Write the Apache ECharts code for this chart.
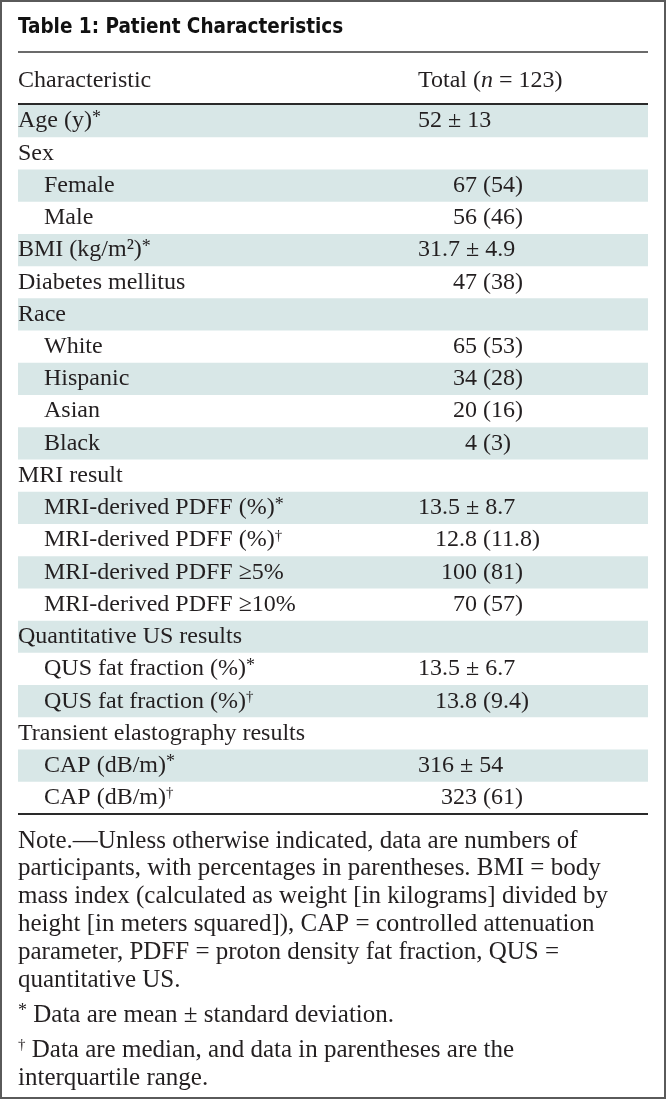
<!DOCTYPE html>
<html><head><meta charset="utf-8">
<script src="https://cdn.jsdelivr.net/npm/echarts@6.0.0/dist/echarts.min.js"></script>
<style>html,body{margin:0;padding:0;background:#fff}#c{width:666px;height:1100px}</style>
</head><body><div id="c"></div>
<script>
const titleText = 'Table 1: Patient Characteristics';
const headerLabel = 'Characteristic';
const headerValue = 'Total ({it|n} = 123)';
const rowLabels = ['Age (y)*','Sex','Female','Male','BMI (kg/m²)*','Diabetes mellitus','Race','White','Hispanic','Asian','Black','MRI result','MRI-derived PDFF (%)*','MRI-derived PDFF (%)†','MRI-derived PDFF ≥5%','MRI-derived PDFF ≥10%','Quantitative US results','QUS fat fraction (%)*','QUS fat fraction (%)†','Transient elastography results','CAP (dB/m)*','CAP (dB/m)†'];
const rowLevels = [0,0,1,1,0,0,0,1,1,1,1,0,1,1,1,1,0,1,1,0,1,1];
const rowValues = ['52 ± 13','','67 (54)','56 (46)','31.7 ± 4.9','47 (38)','','65 (53)','34 (28)','20 (16)','4 (3)','','13.5 ± 8.7','12.8 (11.8)','100 (81)','70 (57)','','13.5 ± 6.7','13.8 (9.4)','','316 ± 54','323 (61)'];
const noteLines = [
  'Note.—Unless otherwise indicated, data are numbers of',
  'participants, with percentages in parentheses. BMI = body',
  'mass index (calculated as weight [in kilograms] divided by',
  'height [in meters squared]), CAP = controlled attenuation',
  'parameter, PDFF = proton density fat fraction, QUS =',
  'quantitative US.'
];
const footnoteLines = [
  '* Data are mean ± standard deviation.',
  '† Data are median, and data in parentheses are the',
  'interquartile range.'
];

const SERIF = '"Liberation Serif", "Times New Roman", serif';
const INK = '#231f20';
const SHADE = '#d8e7e7';
const ROW_FS = 24;
const NOTE_FS = 25;
const supStyle = (fs) => ({ fontSize: fs, fontFamily: SERIF, fill: INK, verticalAlign: 'top', lineHeight: 0 });
const richSup = { sup: supStyle(18), dag: supStyle(15) };
function richify(s) { return s.replace(/\*/g, '{sup|*}').replace(/†/g, '{dag|†}'); }

const chart = echarts.init(document.getElementById('c'), null, { renderer: 'canvas' });

const graphics = [
  { type: 'rect', shape: { x: 1, y: 1, width: 664, height: 1097 }, style: { fill: 'none', stroke: '#5a5a5a', lineWidth: 2 }, z: 10 },
  { type: 'text', x: 18, y: 28, style: { text: titleText, font: 'bold 20.5px "DejaVu Sans Condensed", "DejaVu Sans", sans-serif', fill: '#111', verticalAlign: 'middle' } },
  { type: 'line', shape: { x1: 18, y1: 52, x2: 648, y2: 52 }, style: { stroke: '#3a3a3a', lineWidth: 1.5 } },
  { type: 'text', x: 18, y: 81, style: { text: headerLabel, fontSize: ROW_FS, fontFamily: SERIF, fill: INK, verticalAlign: 'middle' } },
  { type: 'text', x: 418, y: 81, style: { text: headerValue, fontSize: ROW_FS, fontFamily: SERIF, fill: INK, verticalAlign: 'middle',
      rich: { it: { fontSize: ROW_FS, fontFamily: SERIF, fontStyle: 'italic', fill: INK } } } },
  { type: 'line', shape: { x1: 18, y1: 104, x2: 648, y2: 104 }, style: { stroke: '#2a2a2a', lineWidth: 2 }, z: 5 },
  { type: 'line', shape: { x1: 18, y1: 814, x2: 648, y2: 814 }, style: { stroke: '#2a2a2a', lineWidth: 2 }, z: 5 }
];
noteLines.forEach((t, k) => {
  graphics.push({ type: 'text', x: 18, y: 841 + k * 27.8, style: { text: t, fontSize: NOTE_FS, fontFamily: SERIF, fill: INK, verticalAlign: 'middle' } });
});
footnoteLines.forEach((t, k) => {
  const y = 1015 + (k === 0 ? 0 : 35 + (k - 1) * 28.5);
  graphics.push({ type: 'text', x: 18, y: y, style: { text: richify(t), fontSize: NOTE_FS, fontFamily: SERIF, fill: INK, verticalAlign: 'middle',
      rich: richSup } });
});

chart.setOption({
  backgroundColor: '#fff',
  animation: false,
  grid: { left: 18, right: 18, top: 105, height: 709 },
  xAxis: { type: 'value', min: 0, max: 1, show: false },
  yAxis: { type: 'category', data: rowLabels, inverse: true, show: false },
  graphic: graphics,
  series: [{
    type: 'custom',
    data: rowLabels.map((l, i) => [0, i]),
    encode: { x: 0, y: 1 },
    renderItem: function (params, api) {
      const i = params.dataIndex;
      const p0 = api.coord([0, i]);
      const p1 = api.coord([1, i]);
      const h = api.size([0, 1])[1];
      const cy = p0[1];
      const children = [];
      if (i % 2 === 0) {
        children.push({ type: 'rect', shape: { x: p0[0], y: cy - h / 2, width: p1[0] - p0[0], height: h }, style: { fill: SHADE } });
      }
      children.push({ type: 'text', style: {
        text: richify(rowLabels[i]), x: p0[0] + (rowLevels[i] ? 26 : 0), y: cy, fontSize: ROW_FS, fontFamily: SERIF, fill: INK,
        verticalAlign: 'middle', rich: richSup } });
      const v = rowValues[i];
      if (v) {
        if (v.indexOf('±') >= 0) {
          children.push({ type: 'text', style: { text: v, x: p0[0] + 400, y: cy, fontSize: ROW_FS, fontFamily: SERIF, fill: INK, verticalAlign: 'middle' } });
        } else {
          const k = v.indexOf(' (');
          children.push({ type: 'text', style: { text: v.slice(0, k), x: p0[0] + 459, y: cy, align: 'right', fontSize: ROW_FS, fontFamily: SERIF, fill: INK, verticalAlign: 'middle' } });
          children.push({ type: 'text', style: { text: v.slice(k + 1), x: p0[0] + 465, y: cy, align: 'left', fontSize: ROW_FS, fontFamily: SERIF, fill: INK, verticalAlign: 'middle' } });
        }
      }
      return { type: 'group', children: children };
    }
  }]
});
</script>
</body></html>
